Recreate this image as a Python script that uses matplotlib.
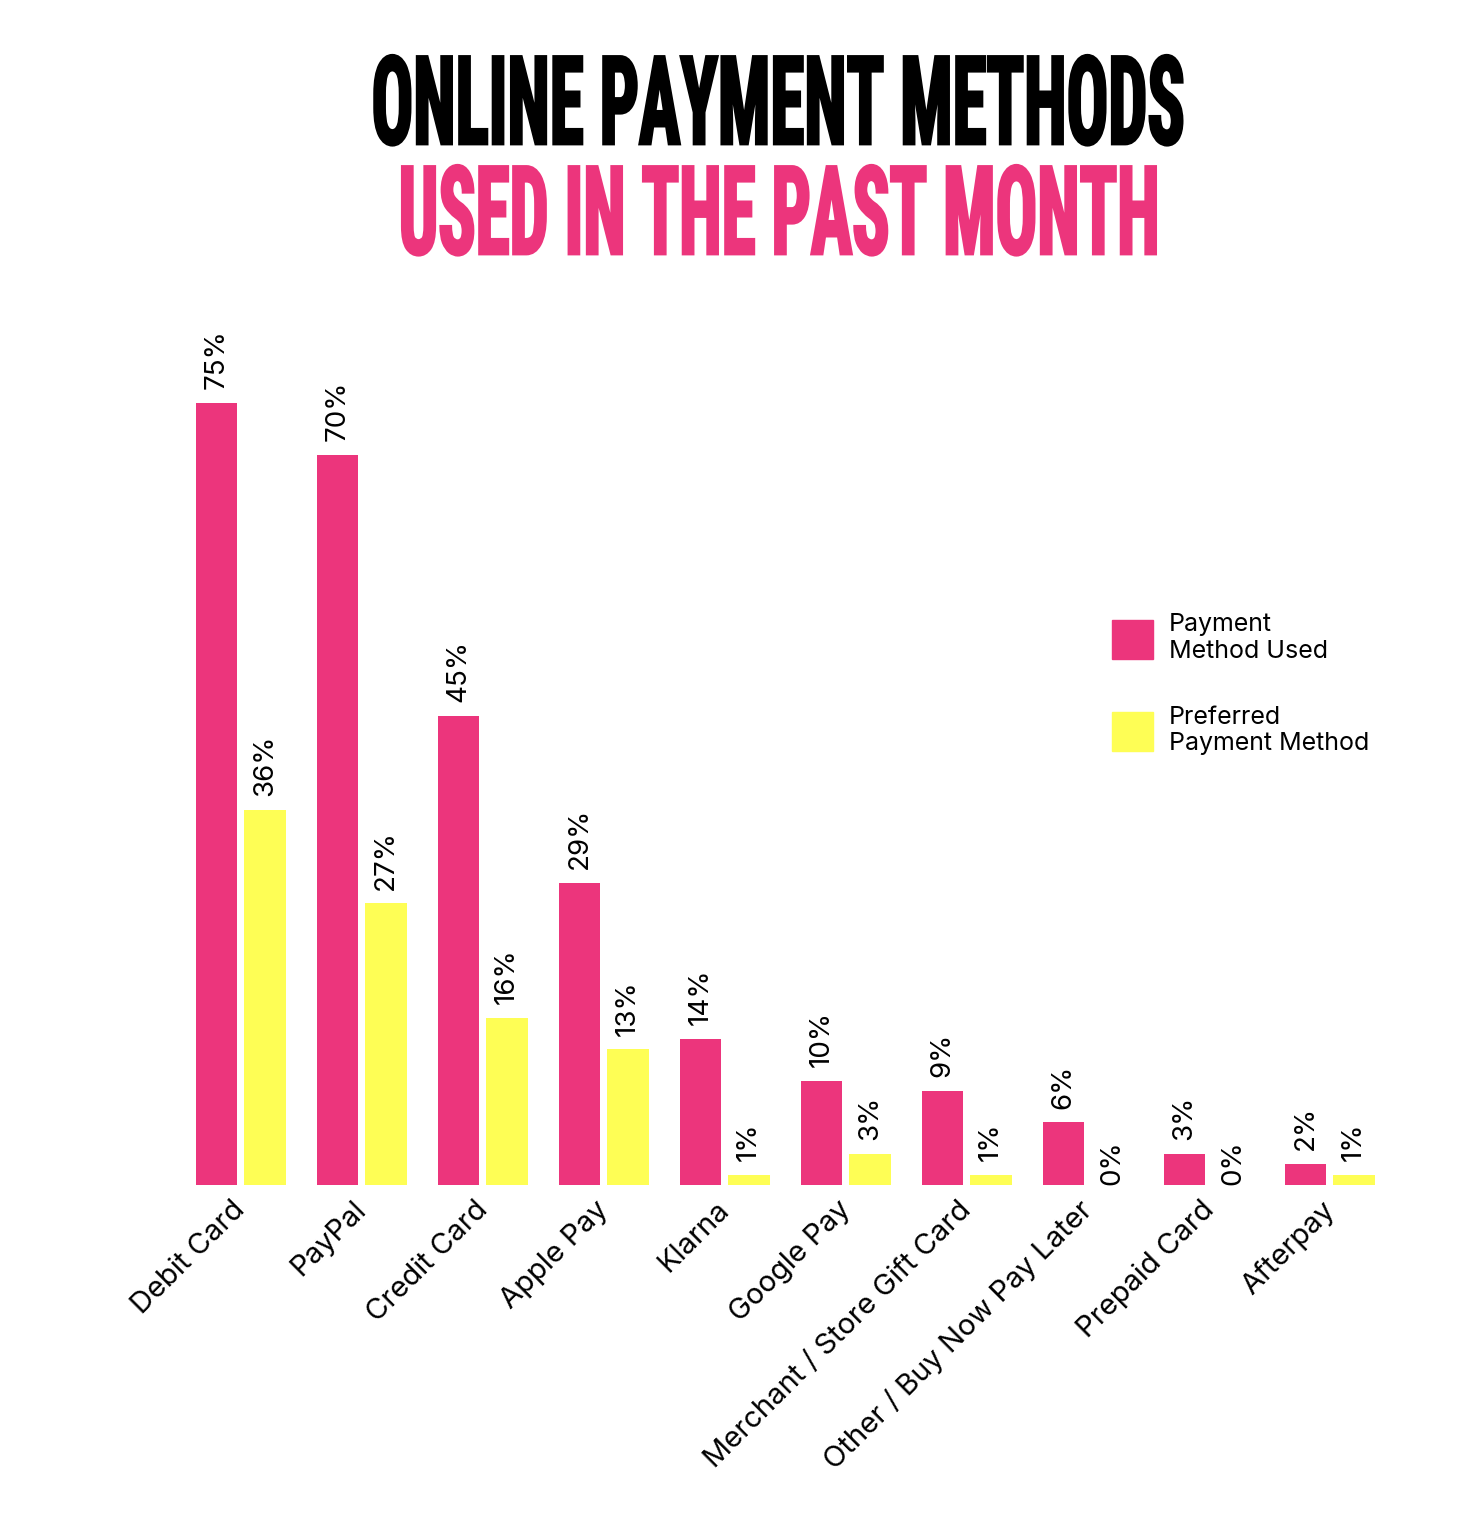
import matplotlib
matplotlib.use("Agg")
import matplotlib.pyplot as plt
import matplotlib.transforms as mtransforms
import numpy as np
from matplotlib.patches import Patch
from matplotlib.patheffects import AbstractPathEffect

methods = ["Debit Card", "PayPal", "Credit Card", "Apple Pay", "Klarna",
           "Google Pay", "Merchant / Store Gift Card", "Other / Buy Now Pay Later",
           "Prepaid Card", "Afterpay"]
used = [75, 70, 45, 29, 14, 10, 9, 6, 3, 2]
preferred = [36, 27, 16, 13, 1, 3, 1, 0, 0, 1]

PINK = "#EC357C"
YELLOW = "#FEFE55"


class TallHeavy(AbstractPathEffect):
    """Stretch glyphs upward from the baseline and thicken them, so a
    condensed font reads like the poster's heavy compressed headline."""

    def __init__(self, sy, lw):
        super().__init__()
        self.sy = sy
        self.lw = lw

    def draw_path(self, renderer, gc, tpath, affine, rgbFace=None):
        ty = affine.get_matrix()[1, 2]
        t = affine + mtransforms.Affine2D().translate(0, -ty).scale(1, self.sy).translate(0, ty)
        gc0 = renderer.new_gc()
        gc0.copy_properties(gc)
        gc0.set_linewidth(self.lw)
        gc0.set_foreground(rgbFace)
        gc0.set_joinstyle("miter")
        renderer.draw_path(gc0, tpath, t, rgbFace)
        gc0.restore()


plt.rcParams["font.family"] = ["Inter", "DejaVu Sans"]

fig = plt.figure(figsize=(14.63, 15.36), dpi=100)
ax = fig.add_axes([0.1232, 0.2285, 0.8271, 0.5432])

x = np.arange(len(methods))
w = 0.34
b1 = ax.bar(x - 0.2, used, w, color=PINK)
b2 = ax.bar(x + 0.2, preferred, w, color=YELLOW)

for bars, vals in ((b1, used), (b2, preferred)):
    for rect, v in zip(bars, vals):
        ax.annotate(f"{v}%", (rect.get_x() + rect.get_width() / 2, v),
                    xytext=(0, 10 if v > 0 else 0), textcoords="offset points",
                    rotation=90, ha="center", va="bottom", fontsize=20)

ax.set_xlim(-0.5, len(methods) - 0.5)
ax.set_ylim(0, 80)
ax.set_yticks([])
ax.set_xticks(x)
ax.set_xticklabels(methods, rotation=45, ha="right", rotation_mode="anchor",
                   fontsize=21)
ax.tick_params(axis="x", length=0, pad=8)
shift = mtransforms.ScaledTranslation(-0.09, 0, fig.dpi_scale_trans)
for lbl in ax.get_xticklabels():
    lbl.set_transform(lbl.get_transform() + shift)
for s in ax.spines.values():
    s.set_visible(False)

handles = [Patch(color=PINK), Patch(color=YELLOW)]
fig.legend(handles, ["Payment\nMethod Used", "Preferred\nPayment Method"],
           loc="upper left", bbox_to_anchor=(1099 / 1463, 1 - 601 / 1536),
           frameon=False, fontsize=18, handlelength=1.65, handleheight=2.0,
           handletextpad=0.65, labelspacing=1.7, borderpad=0)

title_font = ["Roboto Condensed", "DejaVu Sans"]
fx = TallHeavy(sy=1.78, lw=2.0)
fig.text(778 / 1463, 1 - 144 / 1536, "ONLINE PAYMENT METHODS", ha="center",
         va="baseline", fontsize=49.8, fontweight="black", family=title_font,
         color="black", path_effects=[fx])
fig.text(779 / 1463, 1 - 254 / 1536, "USED IN THE PAST MONTH", ha="center",
         va="baseline", fontsize=49.8, fontweight="black", family=title_font,
         color=PINK, path_effects=[fx])

fig.savefig("out.png", dpi=100)
